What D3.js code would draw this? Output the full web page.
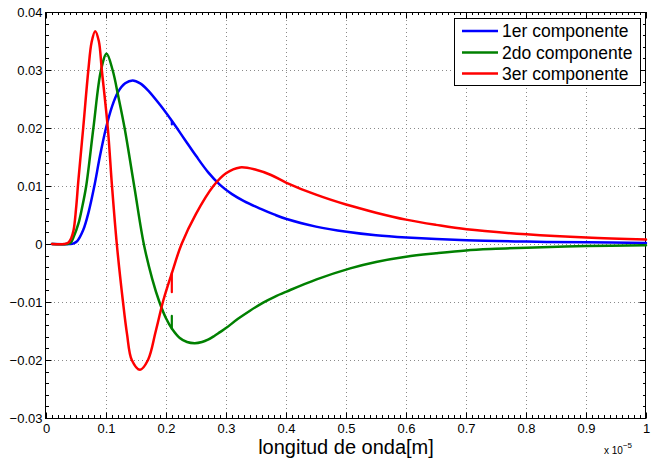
<!DOCTYPE html>
<html>
<head>
<meta charset="utf-8">
<script src="https://cdn.jsdelivr.net/npm/d3@7"></script>
<style>
  html, body { margin: 0; padding: 0; background: #fff; }
  svg { display: block; }
  text { font-family: "Liberation Sans", Arial, Helvetica, sans-serif; }
</style>
</head>
<body>
<svg id="chart" width="653" height="466"></svg>
<script>
// ---- data (x in units of 1e-5 m) ----
const seriesNames = ["1er componente", "2do componente", "3er componente"];
const seriesColors = ["#0000ff", "#008000", "#ff0000"];

const blue = [
  [0.010, 0], [0.040, 0], [0.046, 0.0001], [0.052, 0.0005], [0.062, 0.0024], [0.071, 0.0055],
  [0.0806, 0.0100], [0.090, 0.0152], [0.100, 0.0200], [0.110, 0.0237], [0.120, 0.0262],
  [0.132, 0.0277], [0.1444, 0.0282], [0.157, 0.0277], [0.170, 0.0265], [0.190, 0.0240],
  [0.210, 0.0212], [0.230, 0.0182], [0.250, 0.0152], [0.270, 0.0124], [0.290, 0.0102],
  [0.310, 0.0086], [0.330, 0.0074], [0.357, 0.0061], [0.380, 0.0051], [0.401, 0.0043],
  [0.450, 0.0030], [0.501, 0.0021], [0.550, 0.0015], [0.601, 0.00112], [0.701, 0.00064],
  [0.801, 0.00041], [0.901, 0.00029], [1.000, 0.00018]
];
const blueSpike = [[0.2097, 0.0212], [0.2097, 0.0206]];

const green = [
  [0.010, 0], [0.035, 0], [0.041, 0.0002], [0.046, 0.0012], [0.054, 0.0035], [0.060, 0.0062],
  [0.067, 0.0100], [0.079, 0.0200], [0.0917, 0.0300], [0.101, 0.0328], [0.111, 0.0300],
  [0.121, 0.0252], [0.131, 0.0200], [0.147, 0.0100], [0.163, 0.0000], [0.177, -0.0060],
  [0.189, -0.0100], [0.200, -0.0128], [0.210, -0.0146], [0.223, -0.0162], [0.235, -0.0169],
  [0.248, -0.0171], [0.260, -0.0169], [0.270, -0.0165], [0.280, -0.0159], [0.290, -0.0152],
  [0.300, -0.0145], [0.320, -0.0129], [0.340, -0.0115], [0.362, -0.0101], [0.381, -0.0091],
  [0.401, -0.0082], [0.451, -0.0061], [0.507, -0.0042], [0.550, -0.0031], [0.600, -0.0022],
  [0.650, -0.0016], [0.700, -0.0011], [0.750, -0.00083], [0.801, -0.00063], [0.901, -0.00035],
  [1.000, -0.00023]
];
const greenSpike = [[0.2097, -0.0146], [0.2097, -0.0124]];

const red = [
  [0.010, 0], [0.030, 0], [0.037, 0.0002], [0.042, 0.0010], [0.046, 0.0024], [0.050, 0.0060],
  [0.054, 0.0110], [0.062, 0.0200], [0.0706, 0.0300], [0.076, 0.0348], [0.082, 0.0367],
  [0.088, 0.0350], [0.093, 0.0300], [0.103, 0.0200], [0.110, 0.0100], [0.118, 0.0000],
  [0.128, -0.0097], [0.135, -0.0155], [0.143, -0.0200], [0.1567, -0.0217], [0.170, -0.0200],
  [0.183, -0.0150], [0.1956, -0.0097], [0.2095, -0.0051], [0.226, 0.0000], [0.250, 0.0052],
  [0.279, 0.0100], [0.300, 0.0122], [0.3233, 0.0132], [0.350, 0.0128], [0.375, 0.0119],
  [0.400, 0.0106], [0.450, 0.0085], [0.500, 0.0068], [0.550, 0.0054], [0.600, 0.0042],
  [0.650, 0.0033], [0.701, 0.00253], [0.801, 0.00167], [0.901, 0.0011], [1.000, 0.00076]
];
const redSpike = [[0.2097, -0.0050], [0.2097, -0.0083]];

const xTicks = [0, 0.1, 0.2, 0.3, 0.4, 0.5, 0.6, 0.7, 0.8, 0.9, 1];
const xTickLabels = ["0", "0.1", "0.2", "0.3", "0.4", "0.5", "0.6", "0.7", "0.8", "0.9", "1"];
const yTicks = [-0.03, -0.02, -0.01, 0, 0.01, 0.02, 0.03, 0.04];
const yTickLabels = ["\u22120.03", "\u22120.02", "\u22120.01", "0", "0.01", "0.02", "0.03", "0.04"];
const xLabel = "longitud de onda[m]";

// ---- layout ----
const L = 46, R = 646, T = 12, B = 418;
const svg = d3.select("#chart");
const x = d3.scaleLinear().domain([0, 1]).range([L, R]);
const y = d3.scaleLinear().domain([-0.03, 0.04]).range([B, T]);

// grid
const grid = svg.append("g").attr("stroke", "#8a8a8a").attr("stroke-width", 1)
  .attr("stroke-dasharray", "1,3");
grid.selectAll(".gx").data(xTicks.slice(1, -1)).enter().append("line")
  .attr("x1", d => Math.round(x(d)) + 0.5).attr("x2", d => Math.round(x(d)) + 0.5)
  .attr("y1", T).attr("y2", B);
grid.selectAll(".gy").data(yTicks.slice(1, -1)).enter().append("line")
  .attr("y1", d => Math.round(y(d)) + 0.5).attr("y2", d => Math.round(y(d)) + 0.5)
  .attr("x1", L).attr("x2", R);

// axes with inward ticks
const xMinor = d3.range(0, 1.0001, 0.01);
const yMinor = d3.range(-0.03, 0.04001, 0.002);
const axB = d3.axisBottom(x).tickValues(xTicks).tickSize(-6).tickPadding(5)
  .tickFormat((d, i) => xTickLabels[i]);
const axL = d3.axisLeft(y).tickValues(yTicks).tickSize(-6).tickPadding(3)
  .tickFormat((d, i) => yTickLabels[i]);

const gx = svg.append("g").attr("transform", `translate(0,${B + 0.5})`).call(axB);
const gy = svg.append("g").attr("transform", `translate(${L - 0.5},0)`).call(axL);
[gx, gy].forEach(g => {
  g.select(".domain").remove();
  g.selectAll("text").attr("font-size", 13).attr("fill", "#000")
    .attr("font-family", "'Liberation Sans', Arial, sans-serif");
  g.selectAll("line").attr("stroke", "#000");
});
gx.selectAll("text").attr("dy", "0.71em");
// top / right ticks
svg.append("g").attr("transform", `translate(0,${T + 0.5})`)
  .call(d3.axisTop(x).tickValues(xTicks).tickSize(-6).tickFormat(""))
  .call(g => g.select(".domain").remove());
svg.append("g").attr("transform", `translate(${R - 0.5},0)`)
  .call(d3.axisRight(y).tickValues(yTicks).tickSize(-6).tickFormat(""))
  .call(g => g.select(".domain").remove());
// minor ticks
const minor = svg.append("g").attr("stroke", "#000").attr("stroke-width", 1);
minor.selectAll(".mxb").data(xMinor).enter().append("line")
  .attr("x1", d => Math.round(x(d)) + 0.5).attr("x2", d => Math.round(x(d)) + 0.5)
  .attr("y1", B).attr("y2", B - 3);
minor.selectAll(".mxt").data(xMinor).enter().append("line")
  .attr("x1", d => Math.round(x(d)) + 0.5).attr("x2", d => Math.round(x(d)) + 0.5)
  .attr("y1", T).attr("y2", T + 3);
minor.selectAll(".myl").data(yMinor).enter().append("line")
  .attr("y1", d => Math.round(y(d)) + 0.5).attr("y2", d => Math.round(y(d)) + 0.5)
  .attr("x1", L).attr("x2", L + 3);
minor.selectAll(".myr").data(yMinor).enter().append("line")
  .attr("y1", d => Math.round(y(d)) + 0.5).attr("y2", d => Math.round(y(d)) + 0.5)
  .attr("x1", R).attr("x2", R - 3);

// box
svg.append("rect").attr("x", L - 0.5).attr("y", T + 0.5).attr("width", R - L)
  .attr("height", B - T).attr("fill", "none").attr("stroke", "#000").attr("stroke-width", 1);

// curves
const line = d3.line().x(d => x(d[0])).y(d => y(d[1])).curve(d3.curveCatmullRom.alpha(0.5));
const spikeLine = d3.line().x(d => x(d[0])).y(d => y(d[1]));
[[blue, blueSpike], [green, greenSpike], [red, redSpike]].forEach(([s, sp], i) => {
  svg.append("path").datum(s).attr("d", line).attr("fill", "none")
    .attr("stroke", seriesColors[i]).attr("stroke-width", 2.5)
    .attr("stroke-linejoin", "round").attr("stroke-linecap", "round");
  svg.append("path").datum(sp).attr("d", spikeLine).attr("fill", "none")
    .attr("stroke", seriesColors[i]).attr("stroke-width", 2.2)
    .attr("stroke-linecap", "round");
});

// x label
svg.append("text").attr("x", (L + R) / 2).attr("y", 453.5).attr("text-anchor", "middle")
  .attr("font-size", 20).text(xLabel);
// exponent
const ex = svg.append("text").attr("x", 604).attr("y", 454).attr("font-size", 10);
ex.append("tspan").text("x 10");
ex.append("tspan").attr("font-size", 8).attr("dy", -6).text("\u22125");

// legend
const lg = svg.append("g");
lg.append("rect").attr("x", 454.5).attr("y", 18.5).attr("width", 186).attr("height", 67)
  .attr("fill", "#fff").attr("stroke", "#000").attr("stroke-width", 1);
const rowsY = [31, 52.5, 73.5];
seriesNames.forEach((n, i) => {
  lg.append("line").attr("x1", 462).attr("x2", 498).attr("y1", rowsY[i]).attr("y2", rowsY[i])
    .attr("stroke", seriesColors[i]).attr("stroke-width", 2.5);
  lg.append("text").attr("x", 502).attr("y", rowsY[i]).attr("dy", "0.36em")
    .attr("font-size", 17.5).text(n);
});
</script>
</body>
</html>
